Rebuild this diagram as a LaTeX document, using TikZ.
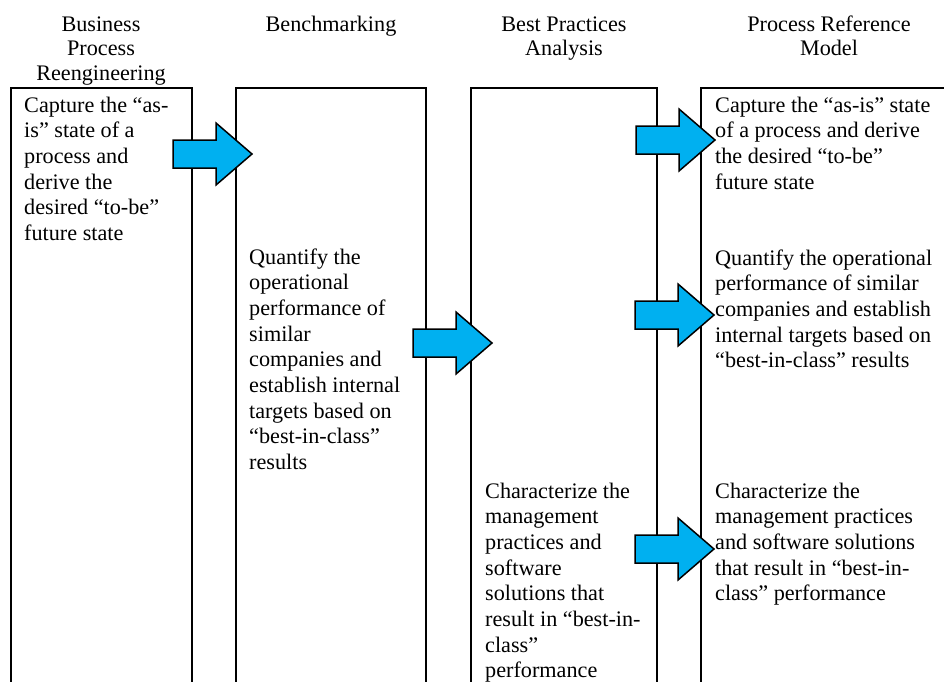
\documentclass[tikz,border=0pt]{standalone}
\usepackage{fontspec}
\setmainfont{Liberation Serif}
\definecolor{arrowblue}{RGB}{0,176,240}
\begin{document}
\begin{tikzpicture}[x=1pt,y=-1pt,
  column/.style={line width=2pt, line join=miter},
  header/.style={align=center, anchor=base, inner sep=0pt,
    font=\fontsize{22.2}{24.5}\selectfont},
  body/.style={align=left, anchor=base west, inner sep=0pt,
    font=\fontsize{22.2}{25.7}\selectfont},
  flowarrow/.style={draw=black, fill=arrowblue, line width=1.5pt, line join=miter},
  blockarrow/.pic={
    \draw[flowarrow] (0,-14) -- (43,-14) -- (43,-31) -- (79,0)
      -- (43,31) -- (43,14) -- (0,14) -- cycle;
  }]
\useasboundingbox (0,0) rectangle (944,681);
\clip (0,0) rectangle (944,681);

% column headings (each placed by the baseline of its last line)
\node[header] (h1) at (101,80) {Business\\Process\\Reengineering};
\node[header] (h2) at (331,31) {Benchmarking};
\node[header] (h3) at (564,55.5) {Best Practices\\Analysis};
\node[header] (h4) at (829,55.5) {Process Reference\\Model};

% open-bottomed columns
\draw[column] (11,700) |- (192,88) -- (192,700);
\draw[column] (236,700) |- (426,88) -- (426,700);
\draw[column] (471,700) |- (657,88) -- (657,700);
\draw[column] (701,700) |- (960,88) -- (960,700);

% column texts (each placed by the baseline of its last line)
\node[body] (t1) at (24,240.5) {Capture the “as-\\is” state of a\\process and\\derive the\\desired “to-be”\\future state};
\node[body] (t2) at (249,469.6) {Quantify the\\operational\\performance of\\similar\\companies and\\establish internal\\targets based on\\“best-in-class”\\results};
\node[body] (t3) at (485,677.9) {Characterize the\\management\\practices and\\software\\solutions that\\result in “best-in-\\class”\\performance};
\node[body] (t4a) at (715,189.1) {Capture the “as-is” state\\of a process and derive\\the desired “to-be”\\future state};
\node[body] (t4b) at (715,367.8) {Quantify the operational\\performance of similar\\companies and establish\\internal targets based on\\“best-in-class” results};
\node[body] (t4c) at (715,600.8) {Characterize the\\management practices\\and software solutions\\that result in “best-in-\\class” performance};

% block arrows between columns
\pic (a1) at (173,154) {blockarrow};
\pic (a2) at (413,343) {blockarrow};
\pic (a3) at (636,140) {blockarrow};
\pic (a4) at (635,315) {blockarrow};
\pic (a5) at (635,549) {blockarrow};
\end{tikzpicture}
\end{document}
